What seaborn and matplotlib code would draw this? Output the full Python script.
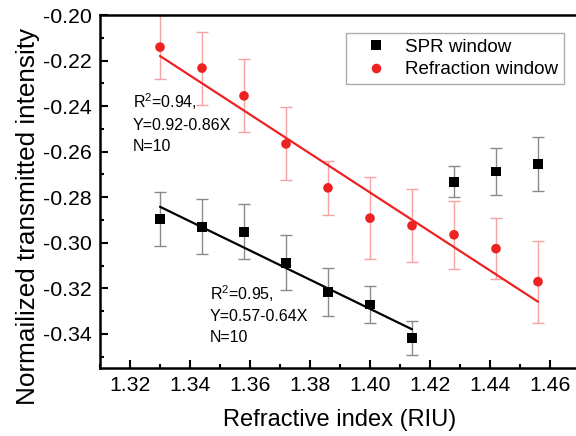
import matplotlib
matplotlib.use("Agg")
import matplotlib.pyplot as plt
import seaborn as sns
import numpy as np
import pandas as pd
from matplotlib.ticker import MultipleLocator, FormatStrFormatter

# ---- data ----
ri = [1.330, 1.344, 1.358, 1.372, 1.386, 1.400, 1.414, 1.428, 1.442, 1.456]
spr_y = [-0.2895, -0.2930, -0.2952, -0.3088, -0.3215, -0.3272, -0.3417, -0.2732, -0.2688, -0.2653]
spr_err = [0.012, 0.012, 0.012, 0.012, 0.0105, 0.008, 0.0075, 0.0068, 0.0103, 0.0118]
refr_y = [-0.2141, -0.2233, -0.2355, -0.2566, -0.2759, -0.2892, -0.2925, -0.2965, -0.3026, -0.3171]
refr_err = [0.014, 0.016, 0.016, 0.016, 0.012, 0.018, 0.016, 0.015, 0.0135, 0.018]
spr_fit_x = [1.330, 1.414]
spr_fit_y = [-0.2842, -0.3380]
refr_fit_x = [1.330, 1.456]
refr_fit_y = [-0.2180, -0.3259]

sns.set_style("ticks")
plt.rcParams['font.family'] = ['Liberation Sans', 'DejaVu Sans']
plt.rcParams['mathtext.default'] = 'regular'
plt.rcParams['text.color'] = 'black'
plt.rcParams['axes.labelcolor'] = 'black'
plt.rcParams['xtick.color'] = 'black'
plt.rcParams['ytick.color'] = 'black'
plt.rcParams['axes.edgecolor'] = 'black'

RED = '#ee2222'
RED_ERR = '#f5a3a3'
BLK_ERR = '#8a8a8a'

fig = plt.figure(figsize=(5.76, 4.36), dpi=100)
ax = fig.add_axes([100/576, (436-368)/436, 480/576, 353/436])

# error bars
ax.errorbar(ri, refr_y, yerr=refr_err, fmt='none', ecolor=RED_ERR, elinewidth=1.0, capsize=4, capthick=1.0, zorder=1)
ax.errorbar(ri, spr_y, yerr=spr_err, fmt='none', ecolor=BLK_ERR, elinewidth=1.0, capsize=4, capthick=1.0, zorder=1)

# fit lines
sns.lineplot(x=refr_fit_x, y=refr_fit_y, color=RED, linewidth=1.6, ax=ax, zorder=2)
sns.lineplot(x=spr_fit_x, y=spr_fit_y, color='black', linewidth=1.6, ax=ax, zorder=2)

# points
df = pd.DataFrame({
    'x': ri + ri,
    'y': spr_y + refr_y,
    'series': ['SPR window'] * len(ri) + ['Refraction window'] * len(ri),
})
sns.scatterplot(data=df, x='x', y='y', hue='series', style='series',
                palette={'SPR window': 'black', 'Refraction window': RED},
                markers={'SPR window': 's', 'Refraction window': 'o'},
                s=48, edgecolor='none', linewidth=0, ax=ax, zorder=3)

ax.set_xlim(1.31, 1.47)
ax.set_ylim(-0.355, -0.20)
ax.xaxis.set_major_locator(MultipleLocator(0.02))
ax.xaxis.set_minor_locator(MultipleLocator(0.01))
ax.yaxis.set_major_locator(MultipleLocator(0.02))
ax.yaxis.set_minor_locator(MultipleLocator(0.01))
ax.xaxis.set_major_formatter(FormatStrFormatter('%.2f'))
ax.yaxis.set_major_formatter(FormatStrFormatter('%.2f'))
ax.tick_params(which='both', direction='in', top=False, right=False, width=1.5, color='black')
ax.tick_params(which='major', length=6, labelsize=15.3, pad=6)
ax.tick_params(which='minor', length=3)
for s in ax.spines.values():
    s.set_linewidth(1.8)
    s.set_color('black')

ax.set_xlabel('Refractive index (RIU)', fontsize=17, labelpad=10)
ax.set_ylabel('Normailized transmitted intensity', fontsize=18.8)
ax.yaxis.set_label_coords(-0.125, 0.43)

handles, labels = ax.get_legend_handles_labels()
leg = ax.legend(handles, labels, loc='upper left', bbox_to_anchor=(346/576, 1-33/436),
                bbox_transform=fig.transFigure, borderaxespad=0, fontsize=13.5, frameon=True,
                fancybox=False, edgecolor='#999999', borderpad=0.3, handlelength=2.6,
                handletextpad=0.25, labelspacing=0.3, markerscale=1.0)
leg.get_frame().set_linewidth(1.0)

fig.text(133/576, 1-91/436, 'R$^2$=0.94,\nY=0.92-0.86X\nN=10', fontsize=11.5,
         va='top', ha='left', linespacing=1.5)
fig.text(210/576, 1-283/436, 'R$^2$=0.95,\nY=0.57-0.64X\nN=10', fontsize=11.5,
         va='top', ha='left', linespacing=1.45)

fig.savefig('out.png', dpi=100)
